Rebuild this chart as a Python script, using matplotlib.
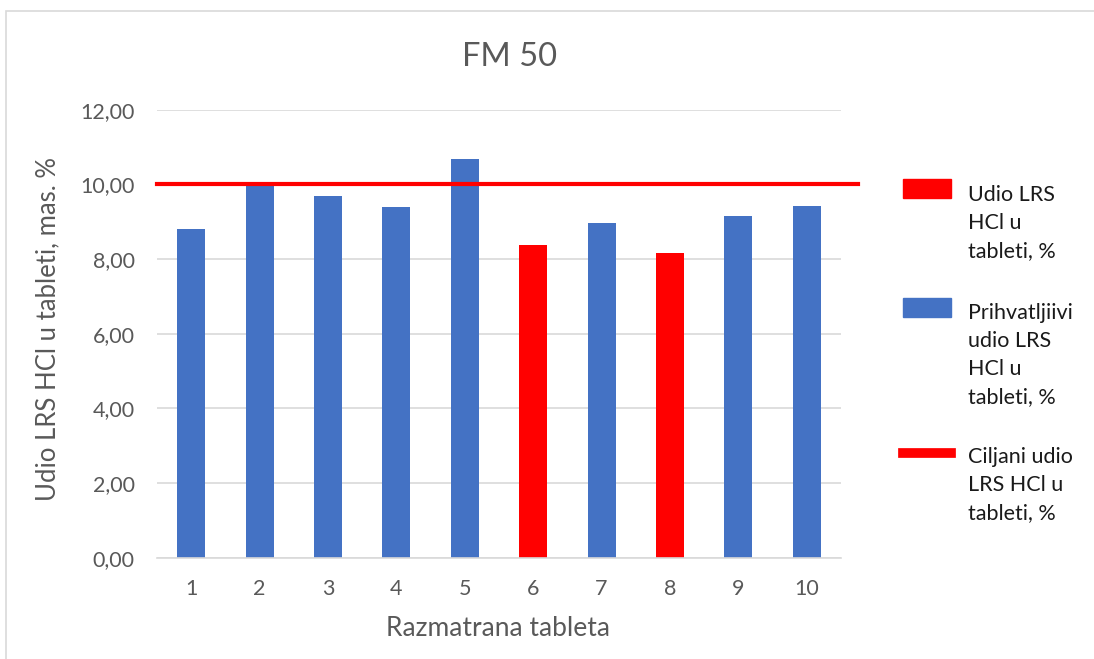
"""Recreate the FM 50 tablet content bar chart."""

import matplotlib

matplotlib.use("Agg")
import matplotlib.pyplot as plt
from matplotlib.lines import Line2D
from matplotlib.patches import Rectangle
import numpy as np

plt.rcParams["font.family"] = ["Lato", "DejaVu Sans"]

TITLE = "FM 50"
X_LABEL = "Razmatrana tableta"
Y_LABEL = "Udio LRS HCl u tableti, mas. %"

tablets = ["1", "2", "3", "4", "5", "6", "7", "8", "9", "10"]
# red bars: tablets outside the acceptable range
udio_out = [0, 0, 0, 0, 0, 8.38, 0, 8.16, 0, 0]
# blue bars: acceptable tablets
udio_ok = [8.81, 10.06, 9.69, 9.40, 10.68, 0, 8.97, 0, 9.15, 9.42]
target = 10.0

y_ticks = [0, 2, 4, 6, 8, 10, 12]

legend_labels = [
    "Udio LRS\nHCl u\ntableti, %",
    "Prihvatljiivi\nudio LRS\nHCl u\ntableti, %",
    "Ciljani udio\nLRS HCl u\ntableti, %",
]

RED = "#FF0000"
BLUE = "#4472C4"
GRID = "#D9D9D9"
TICK = "#595959"

W, H = 1094, 659


def fx(px):
    return px / W


def fy(py):
    return 1 - py / H


def main() -> None:
    fig = plt.figure(figsize=(W / 100, H / 100), dpi=100)
    ax = fig.add_axes([fx(157), fy(557.7), fx(684), 448 / H])

    x = np.arange(len(tablets))
    ax.bar(x, udio_ok, width=0.41, color=BLUE, zorder=2)
    ax.bar(x, udio_out, width=0.41, color=RED, zorder=2)
    ax.axhline(target, xmin=0, xmax=1.025, color=RED, lw=3, clip_on=False, zorder=3)

    ax.set_xlim(-0.5, len(tablets) - 0.5)
    ax.set_ylim(0, 12)
    ax.set_yticks(y_ticks)
    ax.set_yticklabels([f"{v:.2f}".replace(".", ",") for v in y_ticks])
    ax.set_xticks(x)
    ax.set_xticklabels(tablets)
    ax.yaxis.grid(True, color=GRID, lw=1.2)
    ax.set_axisbelow(True)
    for side in ("top", "right", "left"):
        ax.spines[side].set_visible(False)
    ax.spines["bottom"].set_color(GRID)
    ax.spines["bottom"].set_linewidth(1.2)
    ax.tick_params(length=0, labelsize=15.5, labelcolor=TICK)
    ax.tick_params(axis="x", pad=15)
    ax.tick_params(axis="y", pad=16)

    fig.text(fx(510), fy(57), TITLE, ha="center", va="center", fontsize=23.5, color=TICK)
    fig.text(fx(498), fy(629), X_LABEL, ha="center", va="center", fontsize=19, color=TICK)
    fig.text(fx(48), fy(329), Y_LABEL, ha="center", va="center", rotation=90,
             fontsize=18.5, color=TICK)

    # chart frame (only left and top edges show)
    fig.patches.append(Rectangle((fx(6), -0.1), 1.2, fy(11) + 0.1, transform=fig.transFigure,
                                 fill=False, edgecolor=GRID, lw=1.2))

    # legend drawn by hand to match the stacked multi-line entries
    patch_tops = [179, 298, 448]
    text_centers = [223, 355, 485]
    for i, label in enumerate(legend_labels):
        top = patch_tops[i]
        if i < 2:
            fig.patches.append(Rectangle((fx(903), fy(top + 19)), fx(48), 19 / H,
                                         transform=fig.transFigure,
                                         color=RED if i == 0 else BLUE))
        else:
            fig.lines.append(Line2D([fx(903), fx(951)], [fy(top + 5)] * 2,
                                    transform=fig.transFigure, color=RED, lw=7))
        fig.text(fx(968), fy(text_centers[i]), label, ha="left", va="center",
                 multialignment="left", fontsize=15.5, color="#1A1A1A", linespacing=1.52)

    fig.savefig("out.png", dpi=100)
    plt.close(fig)


if __name__ == "__main__":
    main()
